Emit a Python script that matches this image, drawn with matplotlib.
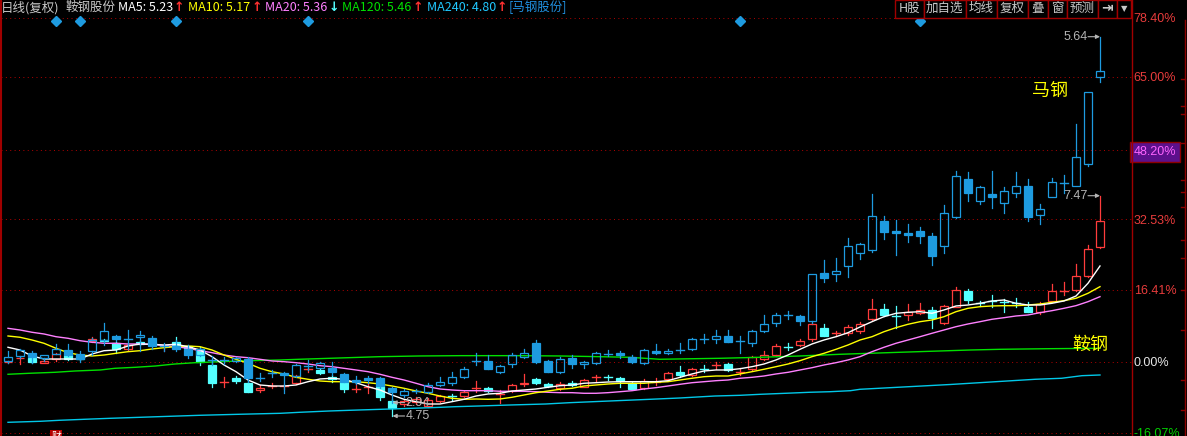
import numpy as np
import matplotlib.pyplot as plt
from matplotlib.patches import Rectangle

plt.rcParams['font.family'] = ['Noto Sans CJK SC', 'DejaVu Sans']

# 百分比坐标 (相对基准价)
levels = [78.40, 65.00, 48.20, 32.53, 16.41, 0.00, -16.07]

# 马钢 (叠加品种)
mg_open = [0.23, 1.37, 2.12, 0.98, 1.89, 2.73, 1.82, 2.51, 5.01, 5.92,
           5.17, 5.63, 5.47, 3.71, 3.64, 2.96, 1.66, 0.52, 0.46, 0.23,
           0.62, -3.58, -2.57, -2.44, -3.19, -0.84, -1.30, -1.44, -2.80, -4.10,
           -3.64, -3.71, -5.99, -7.52, -6.61, -6.77, -5.31, -4.85, -3.35, 0.23,
           0.23, -2.21, -0.52, 1.21, 4.33, 0.23, -2.21, 0.98, -0.52, -0.16,
           1.82, 1.98, 1.21, -0.16, 2.44, 1.98, 2.73, 2.89, 5.31, 5.31,
           5.92, 4.78, 4.26, 7.13, 8.82, 10.71, 10.48, 9.41, 20.21, 19.98,
           21.94, 24.76, 25.51, 32.12, 29.91, 29.45, 29.84, 28.70, 26.49, 32.96,
           41.62, 36.74, 38.34, 36.15, 38.43, 40.09, 33.42, 37.66, 40.85, 40.16,
           45.10, 64.85]
mg_close = [1.14, 2.73, 1.21, 1.53, 2.96, 1.59, 0.68, 5.01, 7.06, 5.17,
            5.20, 6.15, 3.71, 3.71, 2.96, 1.59, 2.96, 0.52, 0.46, 0.98,
            -3.58, -3.58, -2.57, -3.03, -0.68, -0.84, -0.30, -2.35, -4.49, -4.56,
            -4.10, -5.47, -6.77, -6.61, -6.61, -5.24, -4.56, -3.49, -1.66, 0.23,
            -1.53, -0.84, 1.59, 1.98, 0.00, -2.21, 0.68, -0.52, 0.00, 1.98,
            1.82, 1.53, 0.07, 2.73, 1.98, 2.44, 2.73, 5.17, 5.31, 5.92,
            4.62, 4.78, 6.99, 8.59, 10.64, 10.71, 9.41, 19.98, 19.07, 20.66,
            26.42, 26.88, 33.26, 29.68, 29.45, 28.93, 28.77, 24.21, 33.87, 42.37,
            38.57, 39.80, 37.52, 38.89, 40.09, 33.10, 34.78, 40.94, 40.85, 46.63,
            61.44, 66.29]
mg_high = [2.51, 2.96, 2.51, 1.59, 4.10, 4.10, 2.51, 5.47, 8.88, 6.15,
           7.29, 6.99, 5.92, 4.33, 5.01, 3.87, 3.19, 1.37, 1.14, 1.14,
           1.21, -2.51, -1.82, -2.28, -0.46, 0.46, -0.07, 0.00, -2.51, -3.19,
           -3.19, -3.35, -5.70, -6.15, -6.04, -4.78, -3.49, -2.35, -1.07, 1.98,
           1.59, -0.68, 1.98, 2.89, 5.01, 0.46, 1.14, 1.59, 0.23, 2.28,
           2.73, 2.51, 1.59, 2.96, 4.10, 2.96, 4.26, 5.40, 6.38, 7.29,
           7.29, 5.92, 7.29, 10.71, 11.23, 11.62, 10.71, 20.05, 23.24, 23.62,
           28.25, 27.18, 38.27, 33.26, 32.35, 31.44, 30.82, 29.32, 35.76, 43.58,
           43.28, 40.16, 43.51, 39.80, 43.21, 41.69, 35.99, 41.85, 42.60, 54.22,
           61.51, 74.10]
mg_low = [-0.23, 0.91, -0.23, 0.23, 1.82, 1.37, 0.00, 1.59, 3.87, 4.78,
          2.96, 2.57, 2.96, 2.51, 2.51, 0.91, 1.37, -0.68, -0.46, 0.00,
          -4.49, -4.33, -3.42, -6.99, -3.42, -1.82, -1.37, -2.96, -4.56, -5.01,
          -4.78, -5.92, -9.25, -7.97, -7.13, -7.06, -5.47, -5.24, -3.64, -0.68,
          -1.59, -2.57, -1.07, 0.84, -0.23, -2.28, -2.51, -1.30, -1.44, -0.46,
          1.37, 0.98, -0.23, -0.52, 1.82, 1.82, 2.12, 2.73, 4.40, 4.26,
          4.56, 2.12, 3.64, 6.83, 8.20, 9.86, 8.43, 8.95, 18.29, 18.52,
          19.43, 23.40, 25.13, 28.02, 24.37, 27.40, 27.04, 22.10, 24.76, 32.80,
          36.74, 35.92, 35.15, 34.01, 37.52, 32.12, 31.37, 37.59, 38.57, 40.09,
          44.72, 63.85]

# 鞍钢 (主图)
ag_open = [-0.11, 0.80, 0.91, -0.16, 0.68, 1.59, 1.14, 4.78, 5.01, 4.33,
           2.96, 4.56, 4.33, 3.64, 4.56, 3.64, 3.03, -0.68, -4.49, -3.64,
           -4.78, -6.38, -5.40, -5.47, -4.85, -1.66, -1.82, -3.35, -4.49, -6.15,
           -5.69, -5.47, -8.88, -9.57, -9.11, -9.95, -8.82, -7.75, -7.75, -5.99,
           -5.99, -7.29, -6.54, -5.08, -3.94, -5.01, -5.99, -4.72, -5.63, -3.49,
           -3.49, -3.64, -4.85, -5.99, -4.49, -3.94, -2.28, -2.96, -1.66, -0.75,
           -0.46, -2.21, -1.66, 0.68, 1.53, 3.35, 3.80, 5.17, 7.68, 6.50,
           6.67, 7.13, 9.73, 12.01, 10.55, 10.71, 11.23, 11.78, 8.82, 12.60,
           16.17, 13.37, 13.78, 13.67, 13.33, 12.60, 11.46, 13.96, 16.24, 16.40,
           19.59, 26.13]
ag_close = [0.11, 1.02, 0.00, 0.30, 1.89, 0.68, 0.68, 5.35, 4.78, 3.03,
            3.87, 4.10, 4.10, 3.80, 3.94, 3.26, 0.07, -4.72, -4.45, -4.33,
            -6.77, -5.92, -5.36, -5.43, -3.19, -1.60, -2.44, -3.94, -6.15, -6.10,
            -5.65, -8.04, -10.41, -8.88, -8.43, -8.66, -7.75, -7.80, -6.83, -5.95,
            -6.61, -7.25, -5.24, -4.72, -4.72, -5.47, -5.01, -5.24, -4.10, -3.45,
            -3.53, -4.40, -6.08, -4.33, -4.45, -2.57, -2.89, -1.66, -1.70, -0.71,
            -1.82, -2.17, 1.07, 1.53, 3.64, 3.30, 4.78, 8.59, 5.99, 6.54,
            7.90, 8.66, 12.01, 10.71, 10.50, 11.46, 11.85, 9.95, 12.76, 16.33,
            14.19, 13.33, 13.74, 13.63, 13.28, 11.46, 13.21, 16.17, 16.28, 19.59,
            25.67, 32.05]
ag_high = [0.23, 1.14, 1.14, 0.46, 2.05, 1.59, 1.37, 5.58, 5.13, 4.56,
           4.10, 4.78, 4.56, 4.10, 5.69, 3.87, 3.42, 0.46, -3.42, -3.19,
           -4.33, -5.24, -4.78, -4.92, -2.96, -1.37, -1.59, -2.96, -4.33, -4.85,
           -4.78, -5.24, -8.43, -8.43, -7.97, -8.20, -7.52, -7.29, -6.61, -4.33,
           -5.70, -6.38, -5.01, -2.73, -3.64, -4.78, -4.56, -4.33, -3.87, -2.96,
           -2.96, -3.42, -4.56, -3.87, -3.71, -2.28, -0.91, -1.37, -0.75, 0.00,
           -0.23, -1.37, 1.37, 2.51, 4.10, 4.26, 5.17, 8.88, 8.66, 7.06,
           8.43, 9.11, 14.28, 13.21, 12.76, 13.21, 13.37, 12.60, 12.98, 17.02,
           16.63, 13.78, 15.26, 14.28, 14.58, 13.74, 13.60, 17.77, 18.29, 22.32,
           26.65, 37.88]
ag_low = [-0.23, -0.52, -0.23, -0.23, 0.30, 0.46, 0.46, 4.56, 4.56, 2.12,
          2.73, 3.87, 3.87, 2.51, 3.64, 2.96, -0.68, -5.76, -5.63, -4.78,
          -6.83, -6.83, -5.92, -6.15, -5.01, -2.21, -2.73, -4.49, -6.77, -6.77,
          -6.99, -8.66, -12.30, -10.02, -9.57, -10.25, -9.11, -8.66, -7.97, -6.77,
          -6.83, -9.34, -6.83, -5.47, -5.01, -5.70, -6.38, -5.47, -5.70, -4.26,
          -4.10, -5.63, -6.15, -6.15, -5.24, -4.10, -3.49, -3.19, -2.21, -1.66,
          -2.05, -2.96, -1.82, 0.46, 1.37, 2.73, 3.64, 4.85, 5.92, 5.92,
          6.15, 6.67, 9.57, 10.48, 7.68, 9.57, 10.93, 7.68, 8.66, 12.53,
          13.51, 12.76, 12.53, 11.46, 12.53, 11.39, 10.93, 13.90, 15.26, 16.17,
          19.36, 25.97]

# 均线
ma5 = [3.35, 2.73, 1.37, 0.68, 0.68, 0.68, 0.68, 1.82, 2.57, 2.73,
       3.64, 4.10, 4.03, 3.87, 4.03, 3.49, 2.73, 1.21, -0.68, -2.21,
       -4.10, -5.24, -5.47, -5.47, -5.24, -4.49, -3.87, -3.71, -3.94, -4.72,
       -5.63, -6.38, -7.52, -8.50, -9.04, -9.57, -9.57, -9.04, -8.50, -7.75,
       -7.29, -7.13, -6.61, -6.38, -6.15, -5.76, -5.40, -5.24, -4.85, -4.72,
       -4.56, -4.49, -4.49, -4.49, -4.49, -4.26, -3.49, -2.73, -2.05, -1.82,
       -1.82, -1.53, -1.07, -0.46, 0.46, 1.59, 2.89, 4.10, 5.01, 5.76,
       6.67, 7.97, 9.18, 10.32, 11.09, 11.32, 11.46, 11.09, 11.85, 12.76,
       12.98, 13.37, 13.90, 14.12, 13.37, 12.98, 12.98, 13.37, 13.90, 15.03,
       17.93, 21.87]
ma10 = [5.92, 5.63, 5.01, 4.26, 3.12, 2.12, 1.59, 1.37, 1.59, 1.98,
        2.35, 2.57, 2.96, 3.26, 3.49, 3.64, 3.49, 2.73, 1.59, 0.61,
        -0.30, -1.44, -2.21, -2.73, -3.49, -3.94, -4.33, -4.49, -4.49, -4.49,
        -4.72, -5.01, -5.47, -5.99, -6.61, -7.13, -7.75, -8.27, -8.50, -8.43,
        -8.50, -8.43, -8.04, -7.52, -7.00, -6.61, -6.22, -5.99, -5.47, -5.24,
        -5.01, -4.85, -4.85, -4.85, -4.63, -4.49, -4.10, -3.71, -3.35, -3.19,
        -3.19, -2.73, -2.21, -1.66, -1.07, -0.46, 0.30, 1.21, 1.98, 2.89,
        3.87, 5.01, 5.76, 6.90, 7.82, 8.59, 9.18, 9.57, 10.32, 11.46,
        12.23, 12.60, 12.76, 12.83, 12.83, 12.98, 13.21, 13.60, 13.97, 14.51,
        15.65, 17.16]
ma20 = [7.67, 7.29, 6.77, 6.38, 5.76, 5.40, 4.85, 4.49, 4.26, 4.26,
        4.10, 4.10, 4.03, 3.71, 3.49, 3.12, 2.57, 2.12, 1.59, 1.21,
        0.98, 0.61, 0.23, 0.07, -0.16, -0.46, -0.84, -1.07, -1.44, -1.82,
        -2.21, -2.80, -3.49, -4.10, -4.85, -5.63, -6.15, -6.38, -6.54, -6.54,
        -6.54, -6.67, -6.67, -6.67, -6.77, -6.90, -6.99, -6.99, -7.13, -7.13,
        -6.99, -6.77, -6.54, -6.15, -5.85, -5.47, -5.08, -4.72, -4.49, -4.26,
        -4.10, -3.71, -3.49, -3.19, -2.73, -2.35, -1.82, -1.30, -0.68, -0.16,
        0.46, 1.21, 2.35, 3.35, 4.26, 5.01, 5.76, 6.54, 7.29, 8.04,
        8.66, 9.18, 9.73, 10.09, 10.48, 10.71, 11.23, 11.69, 12.23, 12.83,
        13.74, 14.88]
ma120_pos = [0, 1.8, 3.9, 5.6, 7.7, 8.9, 10.6, 12.3, 13.1, 13.9, 15.6, 17.7,
             20.2, 22.7, 24.3, 26.8, 31, 34.3, 37.7, 42.7, 46, 49.3, 51.8,
             54.3, 59.3, 62.7, 66, 69.3, 71.8, 74.3, 77.7, 80.2, 82.7, 86.8, 91]
ma120_val = [-2.80, -2.57, -2.35, -2.05, -1.82, -1.44, -1.21, -0.91, -0.68,
             -0.46, -0.16, 0.07, 0.30, 0.46, 0.62, 0.84, 1.21, 1.37, 1.44,
             1.44, 1.37, 1.21, 1.07, 0.62, 0.84, 1.07, 1.37, 1.75, 1.98,
             2.21, 2.51, 2.73, 2.89, 3.03, 3.12]
ma240_pos = [0, 2.7, 4.3, 6.4, 8.5, 11, 13.5, 16, 19.3, 22.7, 24.3, 26.8,
             29.3, 32.7, 35.2, 37.3, 39.3, 41.8, 44.8, 46.8, 53.5, 56, 58.9,
             61, 62.7, 64.8, 66.8, 68.5, 70.2, 71, 78.5, 85.6, 87.8, 89.5, 91]
ma240_val = [-13.74, -13.51, -13.28, -13.05, -12.83, -12.60, -12.37, -12.14,
             -11.91, -11.69, -11.46, -11.16, -10.93, -10.64, -10.41, -10.18,
             -10.02, -9.80, -9.57, -9.27, -8.50, -8.20, -7.75, -7.59, -7.36,
             -7.13, -6.90, -6.77, -6.54, -6.22, -5.13, -3.94, -3.71, -3.12, -2.96]

mark_days = [4, 6, 14, 25, 61, 76]

header = [("日线(复权)", "#c8c8c8"), ("鞍钢股份", "#c8c8c8"),
          ("MA5: 5.23", "white"), ("↑", "#ff3030"),
          ("MA10: 5.17", "#ffff00"), ("↑", "#ff3030"),
          ("MA20: 5.36", "#ff80ff"), ("↓", "#54ffff"),
          ("MA120: 5.46", "#00e000"), ("↑", "#ff3030"),
          ("MA240: 4.80", "#20c8ff"), ("↑", "#ff3030"),
          ("[马钢股份]", "#2090e0")]
header_x = [1, 66, 118, 174, 188, 252, 265, 329, 342, 413, 427, 497, 509]
buttons = ["H股", "加自选", "均线", "复权", "叠", "窗", "预测", "⇥", "▼"]
button_edges = [894.6, 923.8, 965.8, 996.9, 1027.9, 1047.8, 1066.9, 1098, 1116.7, 1130.9]

BLUE = "#1e9be0"
RED = "#ff3c3c"
CYAN = "#54ffff"
DARKRED = "#a00000"
W, H = 1187, 436
bw = 0.66

fig = plt.figure(figsize=(W / 100, H / 100), dpi=100, facecolor="black")
ax = fig.add_axes([1 / W, 0, (1131.7 - 1) / W, 1])
ax.set_facecolor("black")
ax.set_xlim((1 - 8) / 12, (1131.7 - 8) / 12)
ax.set_ylim(-16.86, 82.46)


def draw_candles(o, c, h, l, up_col, dn_col, z):
    for i in range(len(o)):
        up = c[i] >= o[i]
        col = up_col if up else dn_col
        lo, hi = min(o[i], c[i]), max(o[i], c[i])
        if hi - lo < 0.15:
            # 十字星
            ax.plot([i, i], [l[i], h[i]], color=col, lw=0.9, zorder=z)
            ax.plot([i - bw / 2, i + bw / 2], [o[i], o[i]], color=col, lw=1.0, zorder=z)
        elif up:
            # 阳线: 空心
            ax.plot([i, i], [hi, h[i]], color=col, lw=0.9, zorder=z)
            ax.plot([i, i], [l[i], lo], color=col, lw=0.9, zorder=z)
            ax.add_patch(Rectangle((i - bw / 2, lo), bw, hi - lo, fill=False,
                                   edgecolor=col, lw=0.9, zorder=z))
        else:
            # 阴线: 实心
            ax.plot([i, i], [l[i], h[i]], color=col, lw=0.9, zorder=z)
            ax.add_patch(Rectangle((i - bw / 2, lo), bw, hi - lo, facecolor=col,
                                   edgecolor=col, lw=0.9, zorder=z))


draw_candles(ag_open, ag_close, ag_high, ag_low, RED, CYAN, 2)

idx = np.arange(len(ma5))
ax.plot(ma120_pos, ma120_val, color="#00e000", lw=1.0, zorder=3)
ax.plot(ma240_pos, ma240_val, color="#00c8e8", lw=1.0, zorder=3)
ax.plot(idx, ma20, color="#ff80ff", lw=1.0, zorder=3)
ax.plot(idx, ma10, color="#ffff00", lw=1.0, zorder=3)
ax.plot(idx, ma5, color="white", lw=1.0, zorder=3)

draw_candles(mg_open, mg_close, mg_high, mg_low, BLUE, BLUE, 4)

# 最高/最低价标注
label_col = "#b4b4b4"
hi_labels = [(int(np.argmax(mg_high)), max(mg_high), "5.64"),
             (int(np.argmax(ag_high)), max(ag_high), "7.47")]
lo_labels = [(int(np.argmin(mg_low)), min(mg_low), "2.94"),
             (int(np.argmin(ag_low)), min(ag_low), "4.75")]
for i, v, s in hi_labels:
    ax.annotate("", xy=(i, v), xytext=(i - 1.0, v),
                arrowprops=dict(arrowstyle="-|>", color=label_col, lw=0.8,
                                mutation_scale=6, shrinkA=0, shrinkB=0), zorder=5)
    ax.text(i - 1.05, v, s, color=label_col, fontsize=9, family="Liberation Sans",
            ha="right", va="center", zorder=5)
for i, v, s in lo_labels:
    ax.annotate("", xy=(i + 0.05, v), xytext=(i + 1.05, v),
                arrowprops=dict(arrowstyle="-|>", color=label_col, lw=0.8,
                                mutation_scale=6, shrinkA=0, shrinkB=0), zorder=5)
    ax.text(i + 1.12, v, s, color=label_col, fontsize=9, family="Liberation Sans",
            ha="left", va="center", zorder=5)

ax.text(86.8, 61.7, "马钢", color="#ffff00", fontsize=13, ha="center", va="center", zorder=5)
ax.text(90.2, 3.9, "鞍钢", color="#ffff00", fontsize=13, ha="center", va="center", zorder=5)

ax.plot(mark_days, [1 - 21 / H] * len(mark_days), "D", color=BLUE, ms=5,
        transform=ax.get_xaxis_transform(), clip_on=False, zorder=5)

# 右侧百分比坐标
ax.yaxis.tick_right()
ax.set_yticks(levels)
ax.set_yticklabels([f"{v:.2f}%" for v in levels])
ax.tick_params(axis="y", length=0, pad=1.5, labelsize=9)
ax.set_xticks([])
for lbl, v in zip(ax.get_yticklabels(), levels):
    lbl.set_family("Liberation Sans")
    if v == 48.20:
        lbl.set_color("#ff64ff")
        lbl.set_bbox(dict(boxstyle="square,pad=0.3", facecolor="#5c108c", edgecolor="#8c0000", lw=1))
    elif v > 0:
        lbl.set_color("#e83c3c")
    elif v == 0:
        lbl.set_color("#e6e6e6")
    else:
        lbl.set_color("#00d200")
ax.grid(axis="y", color="#b40000", linestyle=(0, (1, 3.5)), lw=0.7)
ax.set_axisbelow(True)
for side in ["top", "bottom"]:
    ax.spines[side].set_visible(False)
ax.spines["left"].set_color(DARKRED)
ax.spines["left"].set_linewidth(1.5)
ax.spines["right"].set_color(DARKRED)
ax.spines["right"].set_linewidth(1.0)

# 顶部信息栏/按钮
ov = fig.add_axes([0, 0, 1, 1], zorder=10)
ov.set_xlim(0, W)
ov.set_ylim(H, 0)
ov.axis("off")
ov.patch.set_visible(False)
for (s, col), x in zip(header, header_x):
    if s in ("↑", "↓"):
        ov.text(x, 7.5, s, color=col, fontsize=9, family="DejaVu Sans",
                fontweight="bold", va="center", ha="left")
    else:
        ov.text(x, 7.5, s, color=col, fontsize=9, va="center", ha="left")
for j, s in enumerate(buttons):
    x0, x1 = button_edges[j], button_edges[j + 1]
    ov.add_patch(Rectangle((x0, 0), x1 - x0, 17.6, facecolor="black", edgecolor=DARKRED, lw=1))
    fs = 6 if s == "▼" else (10 if s == "⇥" else 9)
    fam = ["DejaVu Sans"] if s in ("▼", "⇥") else ["Noto Sans CJK SC", "DejaVu Sans"]
    ov.text((x0 + x1) / 2, 8.5, s, color="#c8c8c8", fontsize=fs, family=fam,
            ha="center", va="center", fontweight="bold" if s == "⇥" else "normal")

ov.plot([1185, 1185], [20, H], color="#8c0000", lw=1)
for ty in [79, 106, 114, 143, 180, 192, 207, 240, 258, 290, 330, 380, 410]:
    ov.plot([1181, 1185], [ty, ty], color="#8c0000", lw=1)

# 左下角"财"标记 (原图中被底边截断)
ov.text(56, 430.5, "财", color="white", fontsize=7, ha="center", va="top",
        bbox=dict(boxstyle="square,pad=0.1", facecolor="#b40000", edgecolor="none"))

fig.savefig("out.png", dpi=100, facecolor="black")
